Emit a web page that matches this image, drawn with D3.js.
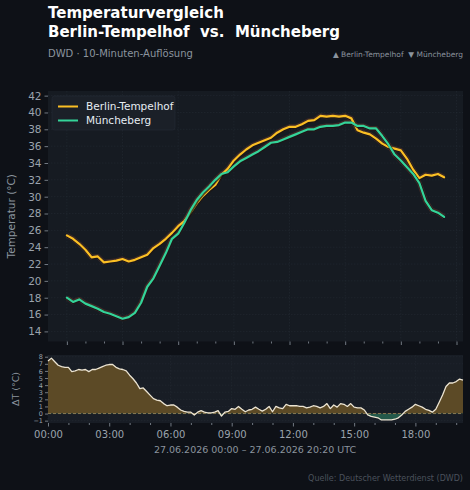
<!DOCTYPE html>
<html>
<head>
<meta charset="utf-8">
<script src="https://cdn.jsdelivr.net/npm/d3@7/dist/d3.min.js"></script>
<style>
  html, body { margin: 0; background: #0e1117; }
  svg { display: block; font-family: "DejaVu Sans", sans-serif; }
</style>
</head>
<body>
<svg id="chart" width="470" height="490"></svg>
<script>
// --- data (DWD, 27.06.2026, 10-min resolution) ---
const stations = ["Berlin-Tempelhof", "Müncheberg"]
const stationColors = ["#fbbf24", "#34d399"]

// temperatures every 20 min, 00:00 … 20:20
const tempMinutes = d3.range(0, 1221, 20)
const berlinTemp = [
  25.4, 25.0, 24.4, 23.7, 22.8, 22.9, 22.2, 22.3, 22.4, 22.6, 22.3, 22.5,
  22.8, 23.1, 23.9, 24.4, 25.0, 25.7, 26.5, 27.1, 28.1, 29.2, 30.1, 30.8,
  31.4, 32.6, 33.3, 34.3, 35.0, 35.6, 36.1, 36.4, 36.7, 37.0, 37.6, 38.0,
  38.3, 38.3, 38.6, 39.0, 39.1, 39.6, 39.5, 39.6, 39.5, 39.6, 39.3, 37.9,
  37.6, 37.4, 36.9, 36.3, 35.9, 35.7, 35.5, 34.5, 33.2, 32.2, 32.6, 32.5,
  32.7, 32.3
]
const muenchebergTemp = [
  18.0, 17.5, 17.8, 17.3, 17.0, 16.7, 16.3, 16.1, 15.8, 15.5, 15.7, 16.2,
  17.4, 19.3, 20.3, 21.8, 23.3, 25.0, 25.6, 26.9, 28.4, 29.6, 30.5, 31.2,
  32.0, 32.7, 32.9, 33.6, 34.2, 34.6, 35.0, 35.4, 35.9, 36.4, 36.5, 36.8,
  37.1, 37.4, 37.7, 38.0, 38.0, 38.3, 38.4, 38.4, 38.5, 38.8, 38.8, 38.4,
  38.4, 38.1, 38.1, 37.2, 36.2, 35.0, 34.3, 33.5, 32.7, 31.6, 29.5, 28.4,
  28.1, 27.6
]

// difference Berlin − Müncheberg every 10 min
const deltaMinutes = d3.range(0, 1221, 10)
const deltaTemp = [
  7.4, 7.8, 7.3, 6.8, 6.6, 6.5,      // 00
  6.5, 5.9, 6.0, 6.2, 6.1, 6.2,      // 01
  5.9, 6.2, 6.2, 6.4, 6.6, 6.8,      // 02
  6.9, 6.9, 6.5, 6.3, 6.2, 6.0,      // 03
  5.4, 4.9, 4.3, 3.5, 3.6, 3.1,      // 04
  2.6, 2.1, 1.9, 1.8, 1.4, 1.1,      // 05
  1.2, 1.2, 0.9, 0.5, 0.3, 0.2,      // 06
  0.2, -0.2, 0.2, 0.4, 0.2, 0.1,     // 07
  0.1, 0.2, 0.4, -0.35, 0.2, 0.3,    // 08
  0.7, 0.6, 1.0, 0.6, 0.25, 0.5,     // 09
  0.6, 0.9, 0.6, 0.35, 0.6, 1.0,     // 10
  0.25, 1.0, 0.8, 0.7, 1.3, 1.1,     // 11
  1.1, 1.1, 1.0, 1.0, 0.8, 0.9,      // 12
  1.1, 1.0, 0.8, 1.0, 1.4, 0.7,      // 13
  1.2, 0.9, 1.4, 1.3, 1.0, 1.4,      // 14
  0.9, 0.8, 0.8, 0.5, -0.2, -0.4,    // 15
  -0.5, -0.6, -0.9, -0.9, -0.9, -0.9, // 16
  -0.8, -0.6, -0.2, 0.3, 0.6, 0.9,   // 17
  1.3, 1.1, 0.9, 0.6, 0.45, 0.2,     // 18
  0.6, 1.6, 2.6, 3.8, 4.3, 4.3,      // 19
  4.5, 4.85, 4.7                     // 20
]

const tempTicks = d3.range(14, 43, 2)
const deltaTicks = d3.range(-1, 9, 1)
const hourTicks = d3.range(0, 22, 3)
const minorHours = d3.range(0, 22, 1)

const fmtHour = h => String(h).padStart(2, "0") + ":00"

const svg = d3.select("#chart")
svg.append("rect").attr("width", 470).attr("height", 490).attr("fill", "#0e1117")

// --- header ---
svg.append("text").attr("x", 48).attr("y", 18).text("Temperaturvergleich")
  .attr("font-size", 15).attr("font-weight", "bold").attr("fill", "#ffffff")
svg.append("text").attr("x", 48).attr("y", 36.5).attr("xml:space", "preserve")
  .text("Berlin-Tempelhof  vs.  Müncheberg")
  .attr("font-size", 15).attr("font-weight", "bold").attr("fill", "#ffffff")
svg.append("text").attr("x", 48).attr("y", 57).text("DWD · 10-Minuten-Auflösung")
  .attr("font-size", 10).attr("fill", "#8b949e")
svg.append("text").attr("x", 463).attr("y", 56.5).attr("text-anchor", "end")
  .text("▲ Berlin-Tempelhof  ▼ Müncheberg").attr("xml:space", "preserve")
  .attr("font-size", 7.5).attr("fill", "#8b949e")

// --- main panel ---
const main = { left: 48, right: 463, top: 91, bottom: 341.5 }
const x = d3.scaleLinear().domain([-61, 1281]).range([main.left, main.right])
const y = d3.scaleLinear().domain([12.8, 42.55]).range([main.bottom, main.top])

svg.append("rect").attr("x", main.left).attr("y", main.top)
  .attr("width", main.right - main.left).attr("height", main.bottom - main.top)
  .attr("fill", "#161b22")

const gridMain = svg.append("g").attr("stroke", "#232a33").attr("stroke-width", 0.6)
  .attr("stroke-dasharray", "1.5,1.5")
gridMain.selectAll("line.h").data(tempTicks).join("line").attr("class", "h")
  .attr("x1", main.left).attr("x2", main.right)
  .attr("y1", d => y(d)).attr("y2", d => y(d))
gridMain.selectAll("line.v").data(hourTicks).join("line").attr("class", "v")
  .attr("y1", main.top).attr("y2", main.bottom)
  .attr("x1", d => x(d * 60)).attr("x2", d => x(d * 60))

const yAxis = svg.append("g").attr("transform", `translate(${main.left},0)`)
  .call(d3.axisLeft(y).tickValues(tempTicks).tickSize(3.5).tickPadding(3))
const xAxisMain = svg.append("g").attr("transform", `translate(0,${main.bottom})`)
  .call(d3.axisBottom(x).tickValues(hourTicks.map(h => h * 60)).tickSize(3.5).tickFormat(""))
const xMinorMain = svg.append("g").attr("transform", `translate(0,${main.bottom})`)
  .call(d3.axisBottom(x).tickValues(minorHours.filter(h => h % 3).map(h => h * 60)).tickSize(2).tickFormat(""))

svg.append("text")
  .attr("transform", `translate(15,${(main.top + main.bottom) / 2}) rotate(-90)`)
  .attr("text-anchor", "middle").text("Temperatur (°C)")
  .attr("font-size", 10.5).attr("fill", "#8b949e")

const series = [berlinTemp, muenchebergTemp]
const line = d3.line().x((d, i) => x(tempMinutes[i])).y(d => y(d))

const lines = svg.append("g")
series.forEach((s, k) => {
  lines.append("path").datum(s).attr("d", line).attr("fill", "none")
    .attr("stroke", "#6b3b2c").attr("stroke-opacity", 0.45).attr("stroke-width", 5)
    .attr("stroke-linejoin", "round")
})
series.forEach((s, k) => {
  lines.append("path").datum(s).attr("d", line).attr("fill", "none")
    .attr("stroke", "#0b0e13").attr("stroke-opacity", 0.7).attr("stroke-width", 3.2)
    .attr("transform", "translate(0.6,0.8)").attr("stroke-linejoin", "round")
  lines.append("path").datum(s).attr("d", line).attr("fill", "none")
    .attr("stroke", stationColors[k]).attr("stroke-width", 2.2)
    .attr("stroke-linejoin", "round").attr("stroke-linecap", "round")
})

// legend
const legend = svg.append("g")
legend.append("rect").attr("x", 52).attr("y", 96).attr("width", 123).attr("height", 34)
  .attr("rx", 2.5).attr("fill", "#1b2028").attr("stroke", "#262c35").attr("stroke-width", 0.6)
stations.forEach((name, k) => {
  const ly = 106.5 + k * 14
  legend.append("line").attr("x1", 58).attr("x2", 78).attr("y1", ly).attr("y2", ly)
    .attr("stroke", stationColors[k]).attr("stroke-width", 2)
  legend.append("text").attr("x", 86).attr("y", ly + 3.8).text(name)
    .attr("font-size", 10.5).attr("fill", "#e6edf3")
})

// --- delta panel ---
const sub = { left: 48, right: 463, top: 355, bottom: 423 }
const xd = d3.scaleLinear().domain([0, 1220]).range([sub.left, sub.right])
const yd = d3.scaleLinear().domain([-1.33, 8.24]).range([sub.bottom, sub.top])

svg.append("rect").attr("x", sub.left).attr("y", sub.top)
  .attr("width", sub.right - sub.left).attr("height", sub.bottom - sub.top)
  .attr("fill", "#181d25")

const gridSub = svg.append("g").attr("stroke", "#232a33").attr("stroke-width", 0.6)
  .attr("stroke-dasharray", "1.5,1.5")
gridSub.selectAll("line").data(hourTicks.filter(h => h <= 20)).join("line")
  .attr("y1", sub.top).attr("y2", sub.bottom)
  .attr("x1", d => xd(d * 60)).attr("x2", d => xd(d * 60))
gridSub.selectAll("line.h").data(deltaTicks).join("line").attr("class", "h")
  .attr("x1", sub.left).attr("x2", sub.right)
  .attr("y1", d => yd(d)).attr("y2", d => yd(d))

const defs = svg.append("defs")
defs.append("clipPath").attr("id", "clip-pos").append("rect")
  .attr("x", sub.left).attr("y", sub.top).attr("width", sub.right - sub.left)
  .attr("height", yd(0) - sub.top)
defs.append("clipPath").attr("id", "clip-neg").append("rect")
  .attr("x", sub.left).attr("y", yd(0)).attr("width", sub.right - sub.left)
  .attr("height", sub.bottom - yd(0))

const area = d3.area().x((d, i) => xd(deltaMinutes[i])).y0(yd(0)).y1(d => yd(d))
svg.append("path").datum(deltaTemp).attr("d", area).attr("fill", "#5c4a26")
  .attr("clip-path", "url(#clip-pos)")
svg.append("path").datum(deltaTemp).attr("d", area).attr("fill", "#24594a")
  .attr("clip-path", "url(#clip-neg)")

svg.append("line").attr("x1", sub.left).attr("x2", sub.right)
  .attr("y1", yd(0)).attr("y2", yd(0))
  .attr("stroke", "#a08c5a").attr("stroke-width", 0.8).attr("stroke-dasharray", "3,2")

const dline = d3.line().x((d, i) => xd(deltaMinutes[i])).y(d => yd(d))
svg.append("path").datum(deltaTemp).attr("d", dline).attr("fill", "none")
  .attr("stroke", "#ece4d2").attr("stroke-width", 1.3).attr("stroke-linejoin", "round")

const ydAxis = svg.append("g").attr("transform", `translate(${sub.left},0)`)
  .call(d3.axisLeft(yd).tickValues(deltaTicks).tickSize(3).tickPadding(2))
const xdAxis = svg.append("g").attr("transform", `translate(0,${sub.bottom})`)
  .call(d3.axisBottom(xd).tickValues(hourTicks.filter(h => h <= 20).map(h => h * 60))
    .tickSize(3.5).tickPadding(4).tickFormat(m => fmtHour(m / 60)))
const xdMinor = svg.append("g").attr("transform", `translate(0,${sub.bottom})`)
  .call(d3.axisBottom(xd).tickValues(minorHours.filter(h => h % 3 && h <= 20).map(h => h * 60))
    .tickSize(2).tickFormat(""))

svg.append("text")
  .attr("transform", `translate(19,${(sub.top + sub.bottom) / 2}) rotate(-90)`)
  .attr("text-anchor", "middle").text("ΔT (°C)")
  .attr("font-size", 9.5).attr("fill", "#8b949e")

// axis styling
;[yAxis, xAxisMain, xMinorMain, ydAxis, xdAxis, xdMinor].forEach(a => {
  a.select(".domain").remove()
  a.selectAll(".tick line").attr("stroke", "#8b949e").attr("stroke-width", 0.8)
  a.selectAll("text").attr("fill", "#9ba3ad").attr("font-family", "DejaVu Sans")
})
yAxis.selectAll("text").attr("font-size", 10.5)
ydAxis.selectAll("text").attr("font-size", 6.5)
xdAxis.selectAll("text").attr("font-size", 10)

svg.append("text").attr("x", 255).attr("y", 453).attr("text-anchor", "middle")
  .text("27.06.2026 00:00 – 27.06.2026 20:20 UTC")
  .attr("font-size", 9.5).attr("fill", "#8b949e")
svg.append("text").attr("x", 463).attr("y", 481).attr("text-anchor", "end")
  .text("Quelle: Deutscher Wetterdienst (DWD)")
  .attr("font-size", 8).attr("fill", "#4b525c")
</script>
</body>
</html>
